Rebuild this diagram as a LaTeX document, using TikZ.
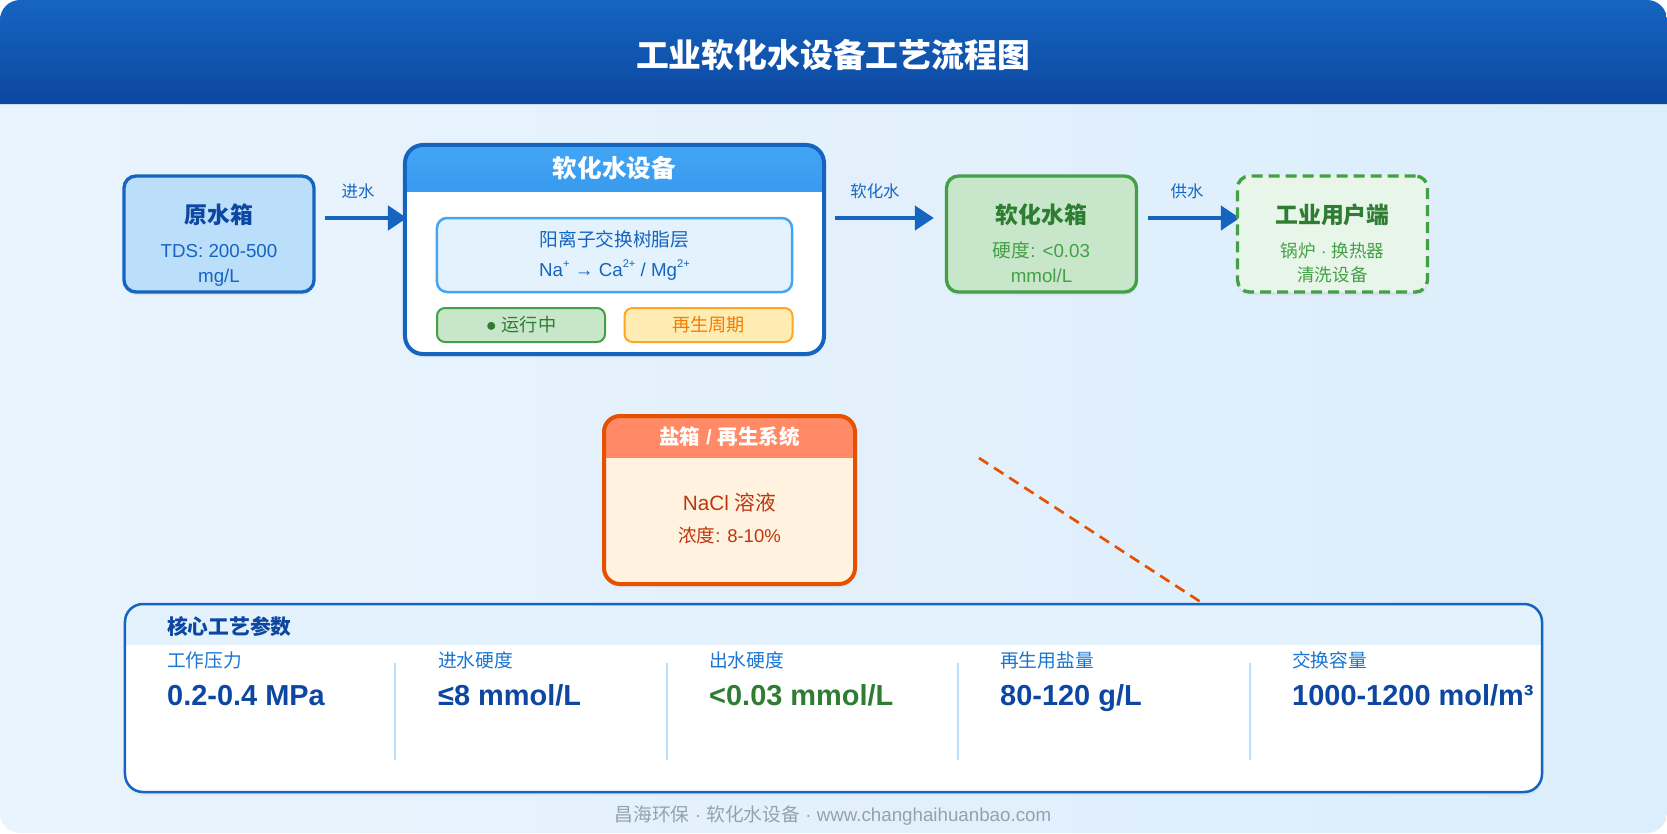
\documentclass[tikz,border=0pt]{standalone}
\usepackage{fontspec}
\setmainfont{Liberation Sans}
\newfontfamily\cjk{Noto Sans CJK SC}
\usetikzlibrary{arrows.meta,calc,shadows}

\definecolor{pagel}{HTML}{EAF4FE}
\definecolor{pager}{HTML}{DCEDFB}
\definecolor{hdrtop}{HTML}{1565C0}
\definecolor{hdrbot}{HTML}{0D47A1}
\definecolor{blueline}{HTML}{1565C0}
\definecolor{bluefill}{HTML}{BBDEFB}
\definecolor{navy}{HTML}{0D47A1}
\definecolor{devtop}{HTML}{42A5F5}
\definecolor{devbot}{HTML}{1976D2}
\definecolor{resinfill}{HTML}{E3F2FD}
\definecolor{resinline}{HTML}{42A5F5}
\definecolor{greenfill}{HTML}{C8E6C9}
\definecolor{greenline}{HTML}{43A047}
\definecolor{greentext}{HTML}{2E7D32}
\definecolor{userfill}{HTML}{E8F5E9}
\definecolor{amberfill}{HTML}{FFECB3}
\definecolor{amberline}{HTML}{FFA726}
\definecolor{ambertext}{HTML}{F57C00}
\definecolor{saltband}{HTML}{FF8A65}
\definecolor{saltfill}{HTML}{FFF3E0}
\definecolor{saltline}{HTML}{E65100}
\definecolor{salttext}{HTML}{BF360C}
\definecolor{labtext}{HTML}{1976D2}
\definecolor{sepline}{HTML}{BBDEFB}
\definecolor{foottext}{HTML}{90A4AE}

\newcommand{\charge}[1]{\raisebox{0.45em}{\fontsize{9.5}{10}\selectfont #1}}

\pgfdeclarelayer{flow}
\pgfsetlayers{flow,main}

\begin{document}
\begin{tikzpicture}[x=0.03cm, y=-0.03cm,
  shadowed/.style={drop shadow={shadow xshift=0cm, shadow yshift=-0.1cm, opacity=0.1}},
  band/.style 2 args={path picture={\path[sharp corners, #1] (path picture bounding box.north west)
      rectangle ([yshift=-#2]path picture bounding box.north east);}},
  tank/.style={rectangle, rounded corners=0.36cm, line width=0.1cm, inner sep=0pt,
      minimum width=5.7cm, minimum height=3.48cm, shadowed},
  tanktitle/.style={font=\cjk\bfseries\fontsize{19.5}{22}\selectfont},
  tanksub/.style={align=center, font=\fontsize{16}{21.3}\selectfont},
  tag/.style={rectangle, rounded corners=0.24cm, line width=0.06cm,
      minimum width=5.04cm, minimum height=1.02cm, font=\fontsize{15.5}{18}\selectfont},
  flow/.style={draw=blueline, line width=0.13cm, -{Triangle[length=0.57cm,width=0.72cm]}},
  lbl/.style={text=blueline, font=\cjk\fontsize{14}{16}\selectfont},
  parlab/.style={anchor=west, inner sep=0pt, text=labtext, font=\cjk\fontsize{16}{18}\selectfont},
  parval/.style={anchor=base west, inner sep=0pt, text=navy, font=\bfseries\fontsize{24.7}{28}\selectfont}]

  % page and header
  \begin{pgfonlayer}{flow}
    \shade[left color=pagel, right color=pager, rounded corners=0.6cm] (0,0) rectangle (1667,833);
  \end{pgfonlayer}
  \useasboundingbox (0,0) rectangle (1667,833);
  \shade[top color=hdrtop, bottom color=hdrbot]
    (0,104) [rounded corners=0.6cm] -- (0,0) -- (1667,0) [sharp corners] -- (1667,104) -- cycle;
  \node[text=white, font=\cjk\bfseries\fontsize{28}{30}\selectfont] (ttl) at (833,55) {工业软化水设备工艺流程图};

  % raw water tank
  \node[tank, draw=blueline, fill=bluefill] (raw) at (219,234) {};
  \node[tanktitle, text=navy] (rawT) at (219,215) {原水箱};
  \node[tanksub, text=blueline] (rawS) at (219,265.5) {TDS: 200-500\\mg/L};

  % softening unit
  \node[rectangle, rounded corners=0.54cm, draw=blueline, fill=white, line width=0.12cm,
        minimum width=12.57cm, minimum height=6.27cm, shadowed,
        band={top color=devtop,bottom color=devbot}{1.38cm}] (dev) at (614.5,249.5) {};
  \node[text=white, font=\cjk\bfseries\fontsize{21}{24}\selectfont] (devT) at (614.5,168) {软化水设备};
  \node[rectangle, rounded corners=0.3cm, draw=resinline, fill=resinfill, line width=0.075cm,
        minimum width=10.65cm, minimum height=2.22cm, align=center, text=blueline,
        font=\fontsize{16}{25.6}\selectfont] (resin) at (614.5,255)
        {{\cjk 阳离子交换树脂层}\\Na\charge{+} → Ca\charge{2+} / Mg\charge{2+}};
  \node[tag, draw=greenline, fill=greenfill, text=greentext] (run) at (521,325) {● {\cjk 运行中}};
  \node[tag, draw=amberline, fill=amberfill, text=ambertext] (regen) at (708.5,325) {\cjk 再生周期};

  % softened water tank
  \node[tank, draw=greenline, fill=greenfill] (soft) at (1041.5,234) {};
  \node[tanktitle, text=greentext] (softT) at (1041.5,215) {软化水箱};
  \node[tanksub, text=greenline] (softS) at (1041.5,262.5) {{\cjk 硬度}: <0.03\\mmol/L};

  % users
  \node[tank, draw=greenline, fill=userfill, dash pattern=on 0.33cm off 0.18cm] (user) at (1332.5,234) {};
  \node[tanktitle, text=greentext] (userT) at (1332.5,215) {工业用户端};
  \node[tanksub, text=greenline, font=\fontsize{15}{20.5}\selectfont] (userS) at (1332.5,262.5)
        {{\cjk 锅炉} · {\cjk 换热器}\\{\cjk 清洗设备}};

  % flow arrows
  \begin{pgfonlayer}{flow}
    \draw[flow] ($(raw.east)+(9,-16)$) -- ($(dev.west)+(4,-31.5)$);
    \draw[flow] ($(dev.east)+(9,-31.5)$) -- ($(soft.west)+(-11,-16)$);
    \draw[flow] ($(soft.east)+(10,-16)$) -- ($(user.west)+(4,-16)$);
  \end{pgfonlayer}
  \node[lbl] (inL) at (358,191) {进水};
  \node[lbl] (softL) at (875,191) {软化水};
  \node[lbl] (supL) at (1187,191) {供水};

  % brine tank
  \node[rectangle, rounded corners=0.48cm, draw=saltline, fill=saltfill, line width=0.12cm,
        minimum width=7.53cm, minimum height=5.04cm, shadowed,
        band={fill=saltband}{1.26cm}] (salt) at (729.5,500) {};
  \node[text=white, font=\bfseries\fontsize{17.5}{20}\selectfont] (saltT) at (729.5,437)
        {{\cjk 盐箱} / {\cjk 再生系统}};
  \node[text=salttext, font=\fontsize{17.7}{20}\selectfont] (saltS1) at (729.5,503) {NaCl {\cjk 溶液}};
  \node[text=salttext, font=\fontsize{15.8}{18}\selectfont] (saltS2) at (729.5,535) {{\cjk 浓度}: 8-10\%};

  \begin{pgfonlayer}{flow}
    \coordinate (dashS) at (979,458);
    \coordinate (dashE) at (1210,608);
    \draw[saltline, line width=0.08cm, dash pattern=on 0.33cm off 0.21cm] (dashS) -- (dashE);
  \end{pgfonlayer}

  % parameter panel
  \node[rectangle, rounded corners=0.54cm, draw=blueline, fill=white, line width=0.075cm,
        minimum width=42.51cm, minimum height=5.64cm, shadowed,
        band={fill=resinfill}{1.23cm}] (panel) at (833.5,698) {};
  \node[anchor=west, inner sep=0pt, text=navy, font=\cjk\bfseries\fontsize{17.7}{20}\selectfont]
        (panelT) at (167,626) {核心工艺参数};

  \node[parlab] (lab1) at (167,660) {工作压力};
  \node[parval] (val1) at (167,705) {0.2-0.4 MPa};
  \node[parlab] (lab2) at (438,660) {进水硬度};
  \node[parval] (val2) at (438,705) {≤8 mmol/L};
  \node[parlab] (lab3) at (709,660) {出水硬度};
  \node[parval, text=greentext] (val3) at (709,705) {<0.03 mmol/L};
  \node[parlab] (lab4) at (1000,660) {再生用盐量};
  \node[parval] (val4) at (1000,705) {80-120 g/L};
  \node[parlab] (lab5) at (1292,660) {交换容量};
  \node[parval] (val5) at (1292,705) {1000-1200 mol/m³};

  \draw[sepline, line width=0.06cm] (395,663) -- (395,760);
  \draw[sepline, line width=0.06cm] (667,663) -- (667,760);
  \draw[sepline, line width=0.06cm] (958,663) -- (958,760);
  \draw[sepline, line width=0.06cm] (1250,663) -- (1250,760);

  % footer
  \node[text=foottext, font=\fontsize{16}{18}\selectfont] (footer) at (833,816)
        {{\cjk 昌海环保} · {\cjk 软化水设备} · www.changhaihuanbao.com};
\end{tikzpicture}
\end{document}
